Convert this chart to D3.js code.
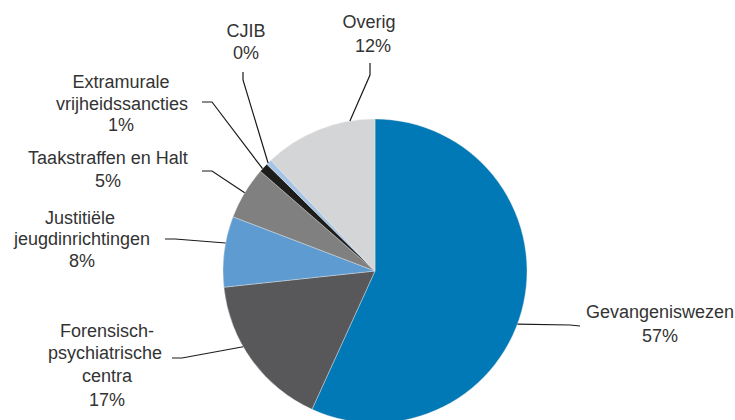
<!DOCTYPE html>
<html>
<head>
<meta charset="utf-8">
<script src="https://cdn.jsdelivr.net/npm/d3@7"></script>
<style>
  html, body { margin: 0; padding: 0; background: #fff; }
  svg { display: block; }
  text { font-family: "Liberation Sans", Arial, sans-serif; font-size: 18px; fill: #333; }
</style>
</head>
<body>
<div id="chart"></div>
<script>
// ---- data ----
const categories = ["Gevangeniswezen", "Forensisch-psychiatrische centra", "Justitiële jeugdinrichtingen",
  "Taakstraffen en Halt", "Extramurale vrijheidssancties", "CJIB", "Overig"];
const values = [56.8, 16.5, 7.5, 5.6, 1.0, 0.6, 12.0];
const pctLabels = ["57%", "17%", "8%", "5%", "1%", "0%", "12%"];
const labelLines = [
  ["Gevangeniswezen"],
  ["Forensisch-", "psychiatrische", "centra"],
  ["Justitiële", "jeugdinrichtingen"],
  ["Taakstraffen en Halt"],
  ["Extramurale", "vrijheidssancties"],
  ["CJIB"],
  ["Overig"]
];
const colors = ["#0079b6", "#58585a", "#5e9bd0", "#808080", "#1d1d1b", "#a6c5e6", "#d4d5d7"];

// ---- layout ----
const W = 735, H = 420;
const cx = 375, cy = 271, R = 152;
const textPos = [
  [[660, 318], [660, 342]],
  [[107, 337], [105, 359], [107, 382], [107, 406]],
  [[80, 224], [82, 245], [82, 267]],
  [[108, 164], [108, 187]],
  [[121, 88], [122, 110], [121, 131]],
  [[246, 37], [246, 59]],
  [[369, 28], [373, 52]]
];
const leaderPts = [
  [[580, 326], [570, 325]],
  [[172, 358], [182, 358]],
  [[165, 239], [175, 239]],
  [[202, 171], [212, 171]],
  [[202, 102], [212, 102]],
  [[243, 72], [243, 80]],
  [[370, 63], [370, 75]]
];
const leaderT = [0.54, 0.6, 0.62, 0.5, 0.35, 0.3, 0.78];

const svg = d3.select("#chart").append("svg").attr("width", W).attr("height", H);

const pie = d3.pie().sort(null).value(d => d);
const arcs = pie(values);
const arc = d3.arc().innerRadius(0).outerRadius(R);

const g = svg.append("g").attr("transform", `translate(${cx},${cy})`);
g.selectAll("path.slice").data(arcs).enter().append("path")
  .attr("class", "slice")
  .attr("d", arc)
  .attr("fill", (d, i) => colors[i])
  .attr("stroke", "#e8e8e8")
  .attr("stroke-width", 0.4);

const line = d3.line();
arcs.forEach((a, i) => {
  const ang = a.startAngle + leaderT[i] * (a.endAngle - a.startAngle);
  const end = [cx + R * Math.sin(ang), cy - R * Math.cos(ang)];
  const pts = leaderPts[i].concat([end]);
  svg.append("path")
    .attr("d", line(pts))
    .attr("fill", "none")
    .attr("stroke", "#1a1a1a")
    .attr("stroke-width", 1.2);
});

categories.forEach((c, i) => {
  const lines = labelLines[i].concat([pctLabels[i]]);
  lines.forEach((t, j) => {
    svg.append("text")
      .attr("x", textPos[i][j][0])
      .attr("y", textPos[i][j][1])
      .attr("text-anchor", "middle")
      .text(t);
  });
});
</script>
</body>
</html>
